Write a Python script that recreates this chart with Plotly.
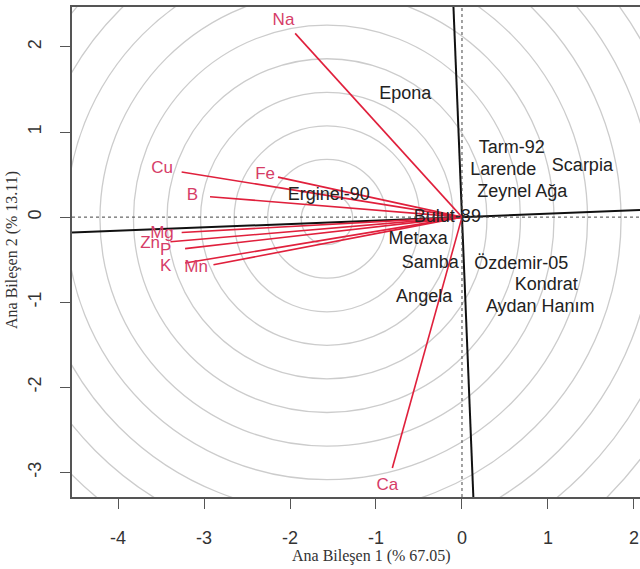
import numpy as np
import plotly.graph_objects as go

# ---- data -------------------------------------------------------------
variables = ["Na", "Cu", "Fe", "B", "Mg", "Zn", "P", "K", "Mn", "Ca"]
load_pc1 = [-1.94, -3.26, -2.14, -2.93, -3.26, -3.39, -3.22, -3.22, -2.89, -0.81]
load_pc2 = [2.16, 0.53, 0.47, 0.24, -0.18, -0.29, -0.37, -0.54, -0.56, -2.95]

genotypes = ["Epona", "Tarm-92", "Larende", "Scarpia", "Zeynel Ağa", "Erginel-90",
             "Bulut-89", "Metaxa", "Samba", "Özdemir-05", "Kondrat", "Angela",
             "Aydan Hanım"]
score_pc1 = [-0.66, 0.58, 0.48, 1.40, 0.70, -1.55, -0.17, -0.51, -0.37, 0.69, 0.98, -0.44, 0.91]
score_pc2 = [1.44, 0.81, 0.55, 0.59, 0.29, 0.26, 0.00, -0.26, -0.54, -0.56, -0.80, -0.95, -1.06]

x_ticks = [-4, -3, -2, -1, 0, 1, 2]
x_tick_text = ["-4", "-3", "-2", "-1", "0", "1", "2"]
y_ticks = [-3, -2, -1, 0, 1, 2]
y_tick_text = ["-3", "-2", "-1", "0", "1", "2"]

circle_center = (-1.57, -0.02)
rotation_deg = 2.3
label_scale = 1.07

x_title = "Ana Bileşen 1 (% 67.05)"
y_title = "Ana Bileşen 2 (% 13.11)"

# ---- figure -----------------------------------------------------------
XR = [-4.535, 2.07]
YR = [-3.29, 2.47]

fig = go.Figure()

shapes = []
# concentric background circles
for k in range(14):
    r = 0.30 + 0.39 * k
    ry = r * 86 / 85
    shapes.append(dict(type="circle", xref="x", yref="y",
                       x0=circle_center[0] - r, x1=circle_center[0] + r,
                       y0=circle_center[1] - ry, y1=circle_center[1] + ry,
                       line=dict(color="#cccccc", width=1.3), layer="below"))
# dotted zero lines
shapes.append(dict(type="line", xref="x", yref="paper", x0=0, x1=0, y0=0, y1=1,
                   line=dict(color="#444", width=1, dash="dot")))
shapes.append(dict(type="line", xref="paper", yref="y", x0=0, x1=1, y0=0, y1=0,
                   line=dict(color="#444", width=1, dash="dot")))
fig.update_layout(shapes=shapes)

# rotated solid axes
t = np.tan(np.radians(rotation_deg))
fig.add_trace(go.Scatter(x=[XR[0], XR[1]], y=[t * XR[0], t * XR[1]], mode="lines",
                         line=dict(color="#111", width=2), hoverinfo="skip", showlegend=False))
fig.add_trace(go.Scatter(x=[-t * YR[1], -t * YR[0]], y=[YR[1], YR[0]], mode="lines",
                         line=dict(color="#111", width=2), hoverinfo="skip", showlegend=False))

# loading vectors
for vx, vy in zip(load_pc1, load_pc2):
    fig.add_trace(go.Scatter(x=[0, vx], y=[0, vy], mode="lines",
                             line=dict(color="#e0203c", width=1.6),
                             hoverinfo="skip", showlegend=False))

# genotype labels
fig.add_trace(go.Scatter(x=score_pc1, y=score_pc2, mode="text", text=genotypes,
                         textposition="middle center",
                         textfont=dict(family="Liberation Sans, Arial", size=18, color="#222"),
                         showlegend=False))

# variable labels
fig.add_trace(go.Scatter(x=[v * label_scale for v in load_pc1],
                         y=[v * label_scale for v in load_pc2],
                         mode="text", text=variables, textposition="middle center",
                         textfont=dict(family="Liberation Sans, Arial", size=17, color="#d63d68"),
                         showlegend=False))

axis_common = dict(showgrid=False, zeroline=False, showline=True, mirror=True,
                   linecolor="#555", linewidth=1.5, ticks="outside", ticklen=10,
                   tickwidth=1.2, tickcolor="#555", automargin=False,
                   tickfont=dict(family="Liberation Sans, Arial", size=18, color="#333"))

fig.update_xaxes(range=XR, tickvals=x_ticks, ticktext=x_tick_text,
                 ticklabelstandoff=14, **axis_common)
fig.update_yaxes(range=YR, tickvals=y_ticks, ticktext=y_tick_text, tickangle=-90,
                 ticklabelstandoff=12, **axis_common)

fig.add_annotation(text=x_title, xref="paper", yref="paper", x=(371 - 72) / 568,
                   y=(497 - 556) / 490, yanchor="middle", xanchor="center", showarrow=False,
                   font=dict(family="Liberation Serif, Times New Roman", size=16, color="#333"))
fig.add_annotation(text=y_title, xref="paper", yref="paper", x=(12 - 72) / 568, xanchor="center",
                   y=(497 - 250) / 490, textangle=-90, showarrow=False,
                   font=dict(family="Liberation Serif, Times New Roman", size=16, color="#333"))

fig.update_layout(width=640, height=569, margin=dict(l=72, r=0, t=7, b=72, autoexpand=False),
                  plot_bgcolor="white", paper_bgcolor="white")

fig.write_html("out.html", config={"displayModeBar": False},
               post_script="document.body.style.margin='0';document.body.style.overflow='hidden';")
